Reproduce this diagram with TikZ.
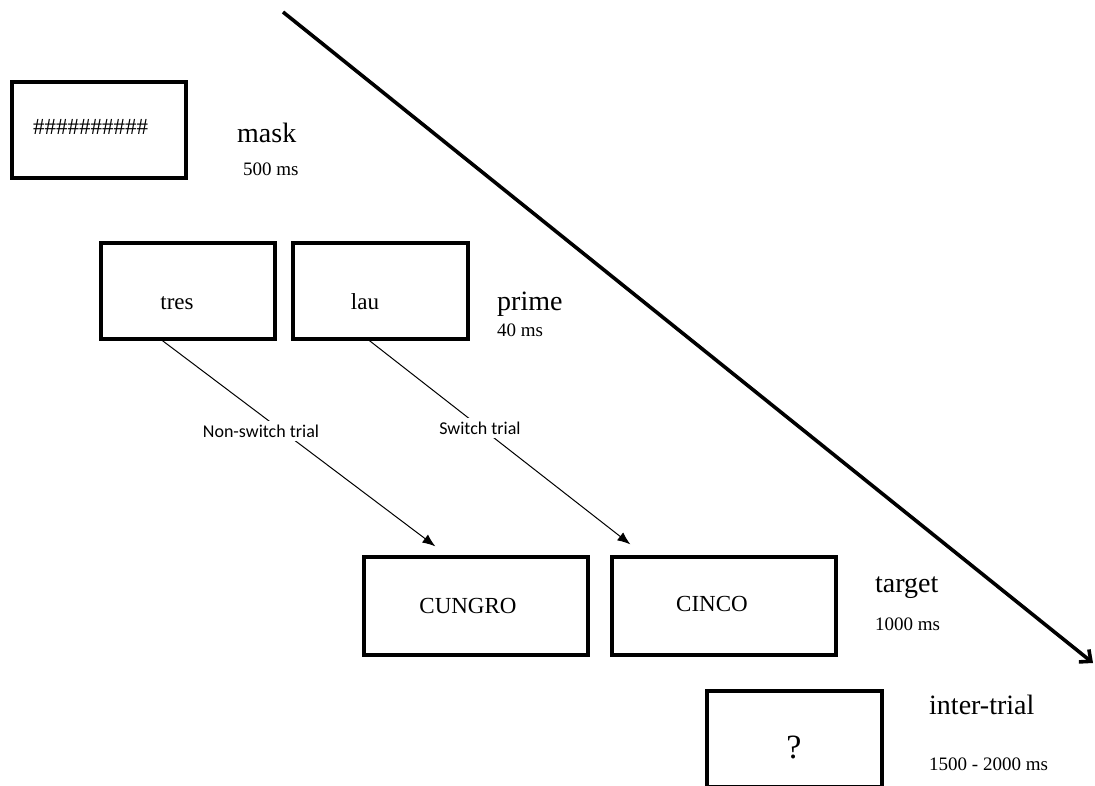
\documentclass[tikz,border=0pt]{standalone}
\usepackage{fontspec}
\setmainfont{Liberation Serif}
\newfontfamily\lblfont{Carlito}
\usetikzlibrary{arrows.meta,calc}

\begin{document}
\begin{tikzpicture}[x=1pt,y=-1pt,
  screen/.style={draw, line width=3.2pt, rectangle, inner sep=0pt, minimum height=96pt},
  word/.style={anchor=base, inner sep=0pt, font=\fontsize{23}{27}\selectfont},
  phase/.style={anchor=base west, inner sep=0pt, font=\fontsize{28}{32}\selectfont},
  dur/.style={anchor=base west, inner sep=0pt, font=\fontsize{19}{22}\selectfont},
  link/.style={line width=1pt, -{Latex[length=13pt,width=10pt]}},
  trial/.style={fill=white, inner sep=4pt, font=\lblfont\fontsize{18}{21}\selectfont},
  timeline/.style={line width=3.6pt, -{Straight Barb[length=9pt,width=16pt]}}
]
\useasboundingbox (0,0) rectangle (1095,785);
\clip (0,0) rectangle (1095,785);
\fill[white] (0,0) rectangle (1095,785);

% time axis
\coordinate (tl-start) at (283,12);
\coordinate (tl-end) at (1093,663);
\draw[timeline] (tl-start) -- (tl-end);

% mask screen
\node[screen, minimum width=174pt] (maskbox) at (99,130) {};
\node[word] (masktxt) at (90.5,134) {\#\#\#\#\#\#\#\#\#\#};
\node[phase] (masklbl) at (237,142) {mask};
\node[dur] (maskdur) at (243,175) {500 ms};

% prime screens
\node[screen, minimum width=174pt] (p1) at (188,291) {};
\node[screen, minimum width=175pt] (p2) at (380.5,291) {};
\node[word] (p1txt) at (177,309) {tres};
\node[word] (p2txt) at (365,309) {lau};
\node[phase] (primelbl) at (497,310) {prime};
\node[dur] (primedur) at (497,336) {40 ms};

% target screens
\node[screen, minimum width=224pt, minimum height=98pt] (t1) at (476,606) {};
\node[screen, minimum width=224pt, minimum height=98pt] (t2) at (724,606) {};
\node[word] (t1txt) at (468,613) {CUNGRO};
\node[word] (t2txt) at (712,611) {CINCO};
\node[phase] (targetlbl) at (875,592) {target};
\node[dur] (targetdur) at (875,630) {1000 ms};

% inter-trial screen
\node[screen, minimum width=175pt] (itbox) at (794.5,739) {};
\node[word, font=\fontsize{34}{38}\selectfont] (ittxt) at (794,758) {?};
\node[phase] (itlbl) at (929,714) {inter-trial};
\node[dur] (itdur) at (929,770) {1500 - 2000 ms};

% prime-to-target links
\coordinate (ns-start) at ($(p1.south west)+(63,0)$);
\coordinate (ns-end) at ($(t1.north west)+(73,-9)$);
\coordinate (sw-start) at ($(p2.south west)+(78,0)$);
\coordinate (sw-end) at ($(t2.north west)+(20,-11)$);
\draw[link] (ns-start) -- (ns-end);
\draw[link] (sw-start) -- (sw-end);
\node[trial] (nslbl) at (261,431) {Non-switch trial};
\node[trial] (swlbl) at (480,428) {Switch trial};
\end{tikzpicture}
\end{document}
